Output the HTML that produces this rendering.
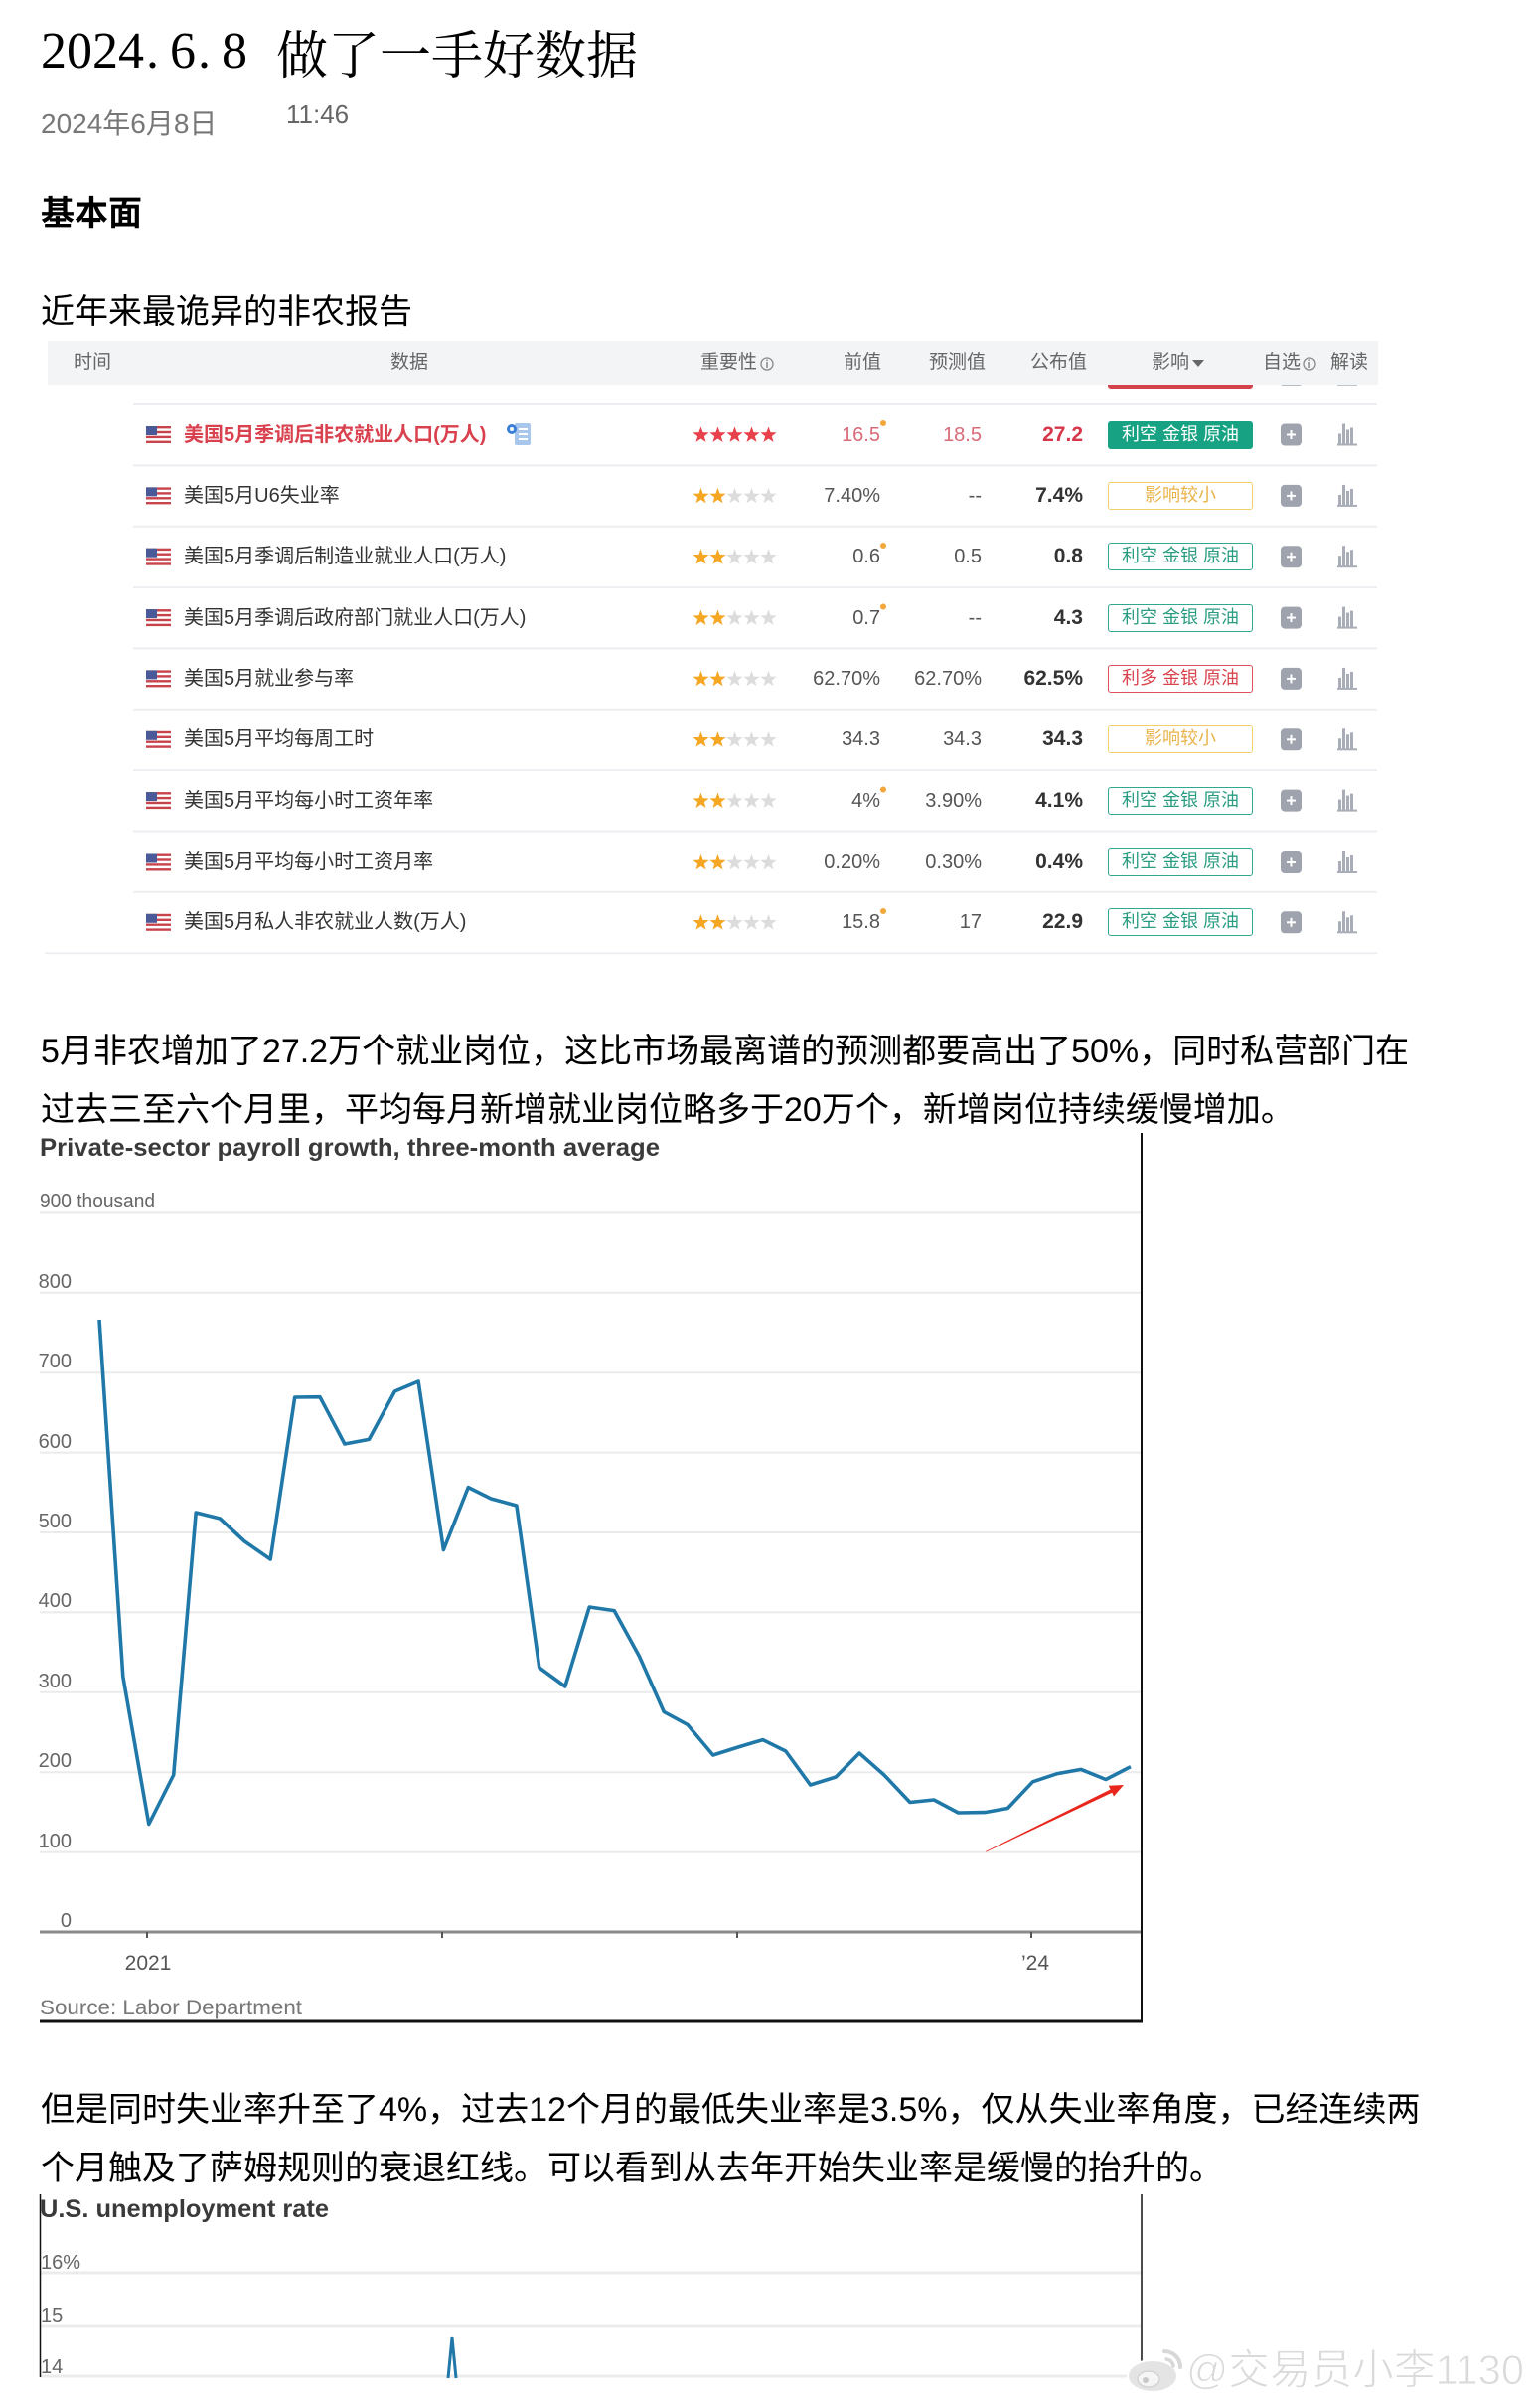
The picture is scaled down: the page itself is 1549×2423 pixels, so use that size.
<!DOCTYPE html>
<html><head><meta charset="utf-8">
<style>
html,body{margin:0;padding:0;background:#fff;}
body{width:1549px;height:2423px;position:relative;overflow:hidden;font-family:"Liberation Sans","Noto Sans CJK SC",sans-serif;color:#000;}
.a{position:absolute;white-space:nowrap;}
.h{top:350px;line-height:30px;font-size:19px;color:#666;}
.nm{left:185px;font-size:20px;line-height:30px;color:#333;}
.v1{right:663px;font-size:20px;line-height:30px;color:#555;}
.v2{right:561px;font-size:20px;line-height:30px;color:#555;}
.v3{right:459px;font-size:21px;line-height:30px;color:#333;font-weight:bold;}
.bd{left:1115px;width:146px;height:28px;box-sizing:border-box;border:1.5px solid;border-radius:3px;font-size:18px;line-height:25px;text-align:center;}
.g{border-color:#2fa88e;color:#2a9c82;background:#fff;}
.gf{background:#17a383;border-color:#17a383;color:#fff;}
.y{border-color:#f1cf6a;color:#eab34a;background:#fff;}
.r{border-color:#e0505a;color:#d9434d;background:#fff;}
.p{font-size:34px;line-height:36px;color:#000;left:41px;}
</style></head><body>

<svg class="a" style="left:0;top:0" width="1549" height="2423" viewBox="0 0 1549 2423" xmlns="http://www.w3.org/2000/svg">
<defs>
<polygon id="st" points="0,-8.5 2.06,-2.83 8.08,-2.63 3.33,1.08 5,6.88 0,3.5 -5,6.88 -3.33,1.08 -8.08,-2.63 -2.06,-2.83"/>
<g id="fl">
<rect x="0" y="0" width="25" height="17" fill="#fff"/>
<rect x="0" y="0" width="25" height="2.4" fill="#c8444c"/>
<rect x="0" y="4.8" width="25" height="2.4" fill="#c8444c"/>
<rect x="0" y="9.7" width="25" height="2.4" fill="#c8444c"/>
<rect x="0" y="14.6" width="25" height="2.4" fill="#c8444c"/>
<rect x="0" y="0" width="11" height="9" fill="#4a5a98"/>
</g>
<g id="pc">
<rect x="0" y="0" width="21" height="22" rx="4" fill="#9ea3ae"/>
<rect x="6" y="10" width="9" height="2" fill="#fff"/>
<rect x="9.5" y="6.5" width="2" height="9" fill="#fff"/>
</g>
<g id="ci" fill="#a9adb8">
<rect x="1" y="10" width="3" height="11"/>
<rect x="5" y="0" width="3" height="21"/>
<rect x="9" y="6" width="3" height="15"/>
<rect x="13" y="4" width="3" height="17"/>
<rect x="0" y="20" width="20" height="2"/>
</g>
</defs>

<!-- partial row above -->
<rect x="1115" y="380" width="146" height="11" rx="3" fill="#d4424c"/>
<rect x="1289" y="380" width="21" height="8" rx="2" fill="#b8bcc4"/>
<rect x="1346" y="380" width="20" height="8" fill="#c0c4cc"/>
<!-- table header -->
<rect x="48" y="343" width="1339" height="44" fill="#f3f4f6"/>
<circle cx="772" cy="366" r="6" fill="none" stroke="#888" stroke-width="1.3"/>
<rect x="771.3" y="364" width="1.5" height="6" fill="#888"/>
<rect x="771.3" y="361.5" width="1.5" height="1.5" fill="#888"/>
<polygon points="1200,362 1212,362 1206,369" fill="#666"/>
<circle cx="1318" cy="366" r="6" fill="none" stroke="#888" stroke-width="1.3"/>
<rect x="1317.3" y="364" width="1.5" height="6" fill="#888"/>
<rect x="1317.3" y="361.5" width="1.5" height="1.5" fill="#888"/>

<!-- separators -->
<g fill="#eceef1">
<rect x="134" y="406" width="1252" height="2"/>
<rect x="134" y="467.4" width="1252" height="2"/>
<rect x="134" y="528.7" width="1252" height="2"/>
<rect x="134" y="590.1" width="1252" height="2"/>
<rect x="134" y="651.4" width="1252" height="2"/>
<rect x="134" y="712.8" width="1252" height="2"/>
<rect x="134" y="774.1" width="1252" height="2"/>
<rect x="134" y="835.5" width="1252" height="2"/>
<rect x="134" y="896.8" width="1252" height="2"/>
<rect x="45" y="958.2" width="1341" height="2"/>
</g>

<!-- flags, icons per row -->
<use href="#fl" x="147" y="429"/>
<use href="#fl" x="147" y="490.4"/>
<use href="#fl" x="147" y="551.7"/>
<use href="#fl" x="147" y="613.1"/>
<use href="#fl" x="147" y="674.4"/>
<use href="#fl" x="147" y="735.8"/>
<use href="#fl" x="147" y="797.1"/>
<use href="#fl" x="147" y="858.5"/>
<use href="#fl" x="147" y="919.8"/>

<use href="#pc" x="1289" y="426.5"/>
<use href="#pc" x="1289" y="487.9"/>
<use href="#pc" x="1289" y="549.2"/>
<use href="#pc" x="1289" y="610.6"/>
<use href="#pc" x="1289" y="671.9"/>
<use href="#pc" x="1289" y="733.3"/>
<use href="#pc" x="1289" y="794.6"/>
<use href="#pc" x="1289" y="856"/>
<use href="#pc" x="1289" y="917.3"/>

<use href="#ci" x="1346" y="426.5"/>
<use href="#ci" x="1346" y="487.9"/>
<use href="#ci" x="1346" y="549.2"/>
<use href="#ci" x="1346" y="610.6"/>
<use href="#ci" x="1346" y="671.9"/>
<use href="#ci" x="1346" y="733.3"/>
<use href="#ci" x="1346" y="794.6"/>
<use href="#ci" x="1346" y="856"/>
<use href="#ci" x="1346" y="917.3"/>

<!-- blue doc icon row1 -->
<rect x="518" y="426" width="16" height="22" rx="2" fill="#a9c6ec"/>
<rect x="522" y="431" width="9" height="2" fill="#fff"/>
<rect x="522" y="436" width="9" height="2" fill="#fff"/>
<rect x="522" y="441" width="9" height="2" fill="#fff"/>
<circle cx="515" cy="432" r="5" fill="#3b7fd6"/>
<circle cx="515" cy="432" r="2" fill="#fff"/>

<!-- stars -->
<g fill="#e8414b">
<use href="#st" x="705.5" y="438"/><use href="#st" x="722.5" y="438"/><use href="#st" x="739.5" y="438"/><use href="#st" x="756.5" y="438"/><use href="#st" x="773.5" y="438"/>
</g>
<g fill="#f5a623">
<use href="#st" x="705.5" y="499.4"/><use href="#st" x="722.5" y="499.4"/>
<use href="#st" x="705.5" y="560.7"/><use href="#st" x="722.5" y="560.7"/>
<use href="#st" x="705.5" y="622.1"/><use href="#st" x="722.5" y="622.1"/>
<use href="#st" x="705.5" y="683.4"/><use href="#st" x="722.5" y="683.4"/>
<use href="#st" x="705.5" y="744.8"/><use href="#st" x="722.5" y="744.8"/>
<use href="#st" x="705.5" y="806.1"/><use href="#st" x="722.5" y="806.1"/>
<use href="#st" x="705.5" y="867.5"/><use href="#st" x="722.5" y="867.5"/>
<use href="#st" x="705.5" y="928.8"/><use href="#st" x="722.5" y="928.8"/>
</g>
<g fill="#dcdcdc">
<use href="#st" x="739.5" y="499.4"/><use href="#st" x="756.5" y="499.4"/><use href="#st" x="773.5" y="499.4"/>
<use href="#st" x="739.5" y="560.7"/><use href="#st" x="756.5" y="560.7"/><use href="#st" x="773.5" y="560.7"/>
<use href="#st" x="739.5" y="622.1"/><use href="#st" x="756.5" y="622.1"/><use href="#st" x="773.5" y="622.1"/>
<use href="#st" x="739.5" y="683.4"/><use href="#st" x="756.5" y="683.4"/><use href="#st" x="773.5" y="683.4"/>
<use href="#st" x="739.5" y="744.8"/><use href="#st" x="756.5" y="744.8"/><use href="#st" x="773.5" y="744.8"/>
<use href="#st" x="739.5" y="806.1"/><use href="#st" x="756.5" y="806.1"/><use href="#st" x="773.5" y="806.1"/>
<use href="#st" x="739.5" y="867.5"/><use href="#st" x="756.5" y="867.5"/><use href="#st" x="773.5" y="867.5"/>
<use href="#st" x="739.5" y="928.8"/><use href="#st" x="756.5" y="928.8"/><use href="#st" x="773.5" y="928.8"/>
</g>
<!-- orange dots -->
<g fill="#f3a73a">
<circle cx="889" cy="426" r="3"/>
<circle cx="889" cy="549" r="3"/>
<circle cx="889" cy="610.5" r="3"/>
<circle cx="889" cy="794.5" r="3"/>
<circle cx="889" cy="917" r="3"/>
</g>

<!-- ===== Chart 1 ===== -->
<g stroke="#ebebeb" stroke-width="2">
<line x1="40" y1="1220.4" x2="1149" y2="1220.4"/>
<line x1="40" y1="1300.8" x2="1149" y2="1300.8"/>
<line x1="40" y1="1381.2" x2="1149" y2="1381.2"/>
<line x1="40" y1="1461.6" x2="1149" y2="1461.6"/>
<line x1="40" y1="1542" x2="1149" y2="1542"/>
<line x1="40" y1="1622.4" x2="1149" y2="1622.4"/>
<line x1="40" y1="1702.8" x2="1149" y2="1702.8"/>
<line x1="40" y1="1783.2" x2="1149" y2="1783.2"/>
<line x1="40" y1="1863.6" x2="1149" y2="1863.6"/>
</g>
<text x="40" y="1163" font-family="Liberation Sans, sans-serif" font-weight="bold" font-size="25" fill="#3a3a3a" textLength="624" lengthAdjust="spacingAndGlyphs">Private-sector payroll growth, three-month average</text>
<text x="40" y="1215" font-family="Liberation Sans, sans-serif" font-size="20" fill="#666" textLength="116" lengthAdjust="spacingAndGlyphs">900 thousand</text>
<g font-family="Liberation Sans, sans-serif" font-size="20" fill="#666" text-anchor="end">
<text x="72" y="1296">800</text>
<text x="72" y="1376">700</text>
<text x="72" y="1457">600</text>
<text x="72" y="1537">500</text>
<text x="72" y="1617">400</text>
<text x="72" y="1698">300</text>
<text x="72" y="1778">200</text>
<text x="72" y="1859">100</text>
<text x="72" y="1939">0</text>
</g>
<line x1="40" y1="1944" x2="1149" y2="1944" stroke="#8a8a8a" stroke-width="3"/>
<g stroke="#555" stroke-width="2">
<line x1="148" y1="1944" x2="148" y2="1950"/>
<line x1="445" y1="1944" x2="445" y2="1950"/>
<line x1="742" y1="1944" x2="742" y2="1950"/>
<line x1="1038" y1="1944" x2="1038" y2="1950"/>
</g>
<g font-family="Liberation Sans, sans-serif" font-size="21" fill="#555" text-anchor="middle">
<text x="149" y="1982">2021</text>
<text x="1042" y="1982">’24</text>
</g>
<text x="40" y="2027" font-family="Liberation Sans, sans-serif" font-size="21" fill="#777" textLength="264" lengthAdjust="spacingAndGlyphs">Source: Labor Department</text>
<polyline fill="none" stroke="#1f78a8" stroke-width="3.6" stroke-linejoin="round" points="100,1328 123.8,1687 149.8,1835.5 174.7,1786 197.2,1522 221.4,1528 246.2,1551 272.2,1569 296.7,1406 322,1405.7 346.9,1453 371.4,1448.4 397.4,1400 421.1,1390 446.4,1559.5 471.3,1496.6 494.2,1508 519.9,1515 542.8,1678 568.8,1697 593.2,1617 618.2,1620.6 643.4,1666.5 668.3,1722.6 692,1735.4 717.7,1766 743,1758 767.8,1750.6 790.8,1762 815.6,1796 841.3,1788 865,1764 889.9,1786 915.9,1813.5 940,1811 964.5,1824 991.3,1823.6 1014.3,1819.5 1039.5,1792.8 1064.4,1784.6 1088.1,1780.4 1113,1790.5 1137.9,1777.7"/>
<!-- red arrow -->
<polygon fill="#e8261c" points="992,1863 1117.6,1800.5 1115.8,1796.7 1131,1796 1121,1807.5 1119.2,1803.7 992.3,1863.6"/>
<!-- borders chart1 -->
<line x1="1149" y1="1140" x2="1149" y2="2035" stroke="#111" stroke-width="2"/>
<line x1="40" y1="2034" x2="1150" y2="2034" stroke="#111" stroke-width="3"/>

<!-- ===== Chart 2 ===== -->
<g stroke="#ececec" stroke-width="3">
<line x1="40" y1="2287" x2="1149" y2="2287"/>
<line x1="40" y1="2340" x2="1149" y2="2340"/>
<line x1="40" y1="2391" x2="1149" y2="2391"/>
</g>
<text x="40" y="2231" font-family="Liberation Sans, sans-serif" font-weight="bold" font-size="25" fill="#3a3a3a" textLength="291" lengthAdjust="spacingAndGlyphs">U.S. unemployment rate</text>
<g font-family="Liberation Sans, sans-serif" font-size="20" fill="#666">
<text x="41" y="2283">16%</text>
<text x="41" y="2336">15</text>
<text x="41" y="2388">14</text>
</g>
<polyline fill="none" stroke="#1f78a8" stroke-width="3" points="451,2393 455,2352 459,2393"/>
<line x1="40.5" y1="2208" x2="40.5" y2="2392" stroke="#111" stroke-width="1.5"/>
<line x1="1149" y1="2208" x2="1149" y2="2395" stroke="#111" stroke-width="1.5"/>

<!-- watermark -->
<ellipse cx="1160" cy="2391" rx="25" ry="16" fill="#e4e4e4" stroke="#fff" stroke-width="2"/>
<ellipse cx="1156" cy="2394" rx="11" ry="8" fill="#f5f5f5" stroke="#d4d4d4" stroke-width="1.5"/>
<circle cx="1153" cy="2395" r="3" fill="#c8c8c8"/>
<path d="M1172,2366 A16 16 0 0 1 1188,2382" fill="none" stroke="#d8d8d8" stroke-width="4" stroke-linecap="round"/>
<path d="M1174,2374 A8 8 0 0 1 1181,2381" fill="none" stroke="#d8d8d8" stroke-width="3.5" stroke-linecap="round"/>
<text x="1194" y="2399" font-family="Liberation Sans, Noto Sans CJK SC, sans-serif" font-size="42" fill="#dadada" stroke="#fff" stroke-width="1" textLength="340" lengthAdjust="spacingAndGlyphs">@交易员小李1130</text>
</svg>

<!-- Title -->
<div class="a" style="left:41px;top:22px;line-height:60px;font-size:52px;font-family:'Liberation Serif',serif;">2024<span style="display:inline-block;width:26px;padding-left:2px;box-sizing:border-box">.</span>6<span style="display:inline-block;width:26px;padding-left:2px;box-sizing:border-box">.</span>8</div>
<div class="a" style="left:278px;top:22px;line-height:60px;font-size:52px;font-family:'Noto Serif CJK SC',serif;">做了一手好数据</div>
<div class="a" style="left:41px;top:110px;font-size:28px;line-height:30px;color:#777;">2024年6月8日</div>
<div class="a" style="left:288px;top:100px;font-size:26px;line-height:30px;color:#666;">11:46</div>
<div class="a" style="left:41px;top:198px;font-size:34px;line-height:34px;font-weight:bold;">基本面</div>
<div class="a" style="left:41px;top:297px;font-size:34px;line-height:34px;">近年来最诡异的非农报告</div>

<!-- Table header text -->
<div class="a h" style="left:74px">时间</div>
<div class="a h" style="left:393px">数据</div>
<div class="a h" style="left:705px">重要性</div>
<div class="a h" style="left:849px">前值</div>
<div class="a h" style="left:935px">预测值</div>
<div class="a h" style="left:1037px">公布值</div>
<div class="a h" style="left:1159px">影响</div>
<div class="a h" style="left:1271px">自选</div>
<div class="a h" style="left:1339px">解读</div>

<!-- Row 1 -->
<div class="a nm" style="top:422.5px;color:#d9414f;font-weight:bold">美国5月季调后非农就业人口(万人)</div>
<div class="a v1" style="top:422.5px;color:#d96a78">16.5</div>
<div class="a v2" style="top:422.5px;color:#d96a78">18.5</div>
<div class="a v3" style="top:422.5px;color:#d6364a">27.2</div>
<div class="a bd gf" style="top:423.5px">利空 金银 原油</div>
<!-- Row 2 -->
<div class="a nm" style="top:483.9px">美国5月U6失业率</div>
<div class="a v1" style="top:483.9px">7.40%</div>
<div class="a v2" style="top:483.9px">--</div>
<div class="a v3" style="top:483.9px">7.4%</div>
<div class="a bd y" style="top:484.9px">影响较小</div>
<!-- Row 3 -->
<div class="a nm" style="top:545.2px">美国5月季调后制造业就业人口(万人)</div>
<div class="a v1" style="top:545.2px">0.6</div>
<div class="a v2" style="top:545.2px">0.5</div>
<div class="a v3" style="top:545.2px">0.8</div>
<div class="a bd g" style="top:546.2px">利空 金银 原油</div>
<!-- Row 4 -->
<div class="a nm" style="top:606.6px">美国5月季调后政府部门就业人口(万人)</div>
<div class="a v1" style="top:606.6px">0.7</div>
<div class="a v2" style="top:606.6px">--</div>
<div class="a v3" style="top:606.6px">4.3</div>
<div class="a bd g" style="top:607.6px">利空 金银 原油</div>
<!-- Row 5 -->
<div class="a nm" style="top:667.9px">美国5月就业参与率</div>
<div class="a v1" style="top:667.9px">62.70%</div>
<div class="a v2" style="top:667.9px">62.70%</div>
<div class="a v3" style="top:667.9px">62.5%</div>
<div class="a bd r" style="top:668.9px">利多 金银 原油</div>
<!-- Row 6 -->
<div class="a nm" style="top:729.3px">美国5月平均每周工时</div>
<div class="a v1" style="top:729.3px">34.3</div>
<div class="a v2" style="top:729.3px">34.3</div>
<div class="a v3" style="top:729.3px">34.3</div>
<div class="a bd y" style="top:730.3px">影响较小</div>
<!-- Row 7 -->
<div class="a nm" style="top:790.6px">美国5月平均每小时工资年率</div>
<div class="a v1" style="top:790.6px">4%</div>
<div class="a v2" style="top:790.6px">3.90%</div>
<div class="a v3" style="top:790.6px">4.1%</div>
<div class="a bd g" style="top:791.6px">利空 金银 原油</div>
<!-- Row 8 -->
<div class="a nm" style="top:852px">美国5月平均每小时工资月率</div>
<div class="a v1" style="top:852px">0.20%</div>
<div class="a v2" style="top:852px">0.30%</div>
<div class="a v3" style="top:852px">0.4%</div>
<div class="a bd g" style="top:853px">利空 金银 原油</div>
<!-- Row 9 -->
<div class="a nm" style="top:913.3px">美国5月私人非农就业人数(万人)</div>
<div class="a v1" style="top:913.3px">15.8</div>
<div class="a v2" style="top:913.3px">17</div>
<div class="a v3" style="top:913.3px">22.9</div>
<div class="a bd g" style="top:914.3px">利空 金银 原油</div>

<!-- Paragraph 1 -->
<div class="a p" style="top:1040px">5月非农增加了27.2万个就业岗位，这比市场最离谱的预测都要高出了50%，同时私营部门在</div>
<div class="a p" style="top:1099px">过去三至六个月里，平均每月新增就业岗位略多于20万个，新增岗位持续缓慢增加。</div>

<!-- Paragraph 2 -->
<div class="a p" style="top:2105px">但是同时失业率升至了4%，过去12个月的最低失业率是3.5%，仅从失业率角度，已经连续两</div>
<div class="a p" style="top:2164px">个月触及了萨姆规则的衰退红线。可以看到从去年开始失业率是缓慢的抬升的。</div>

</body></html>
